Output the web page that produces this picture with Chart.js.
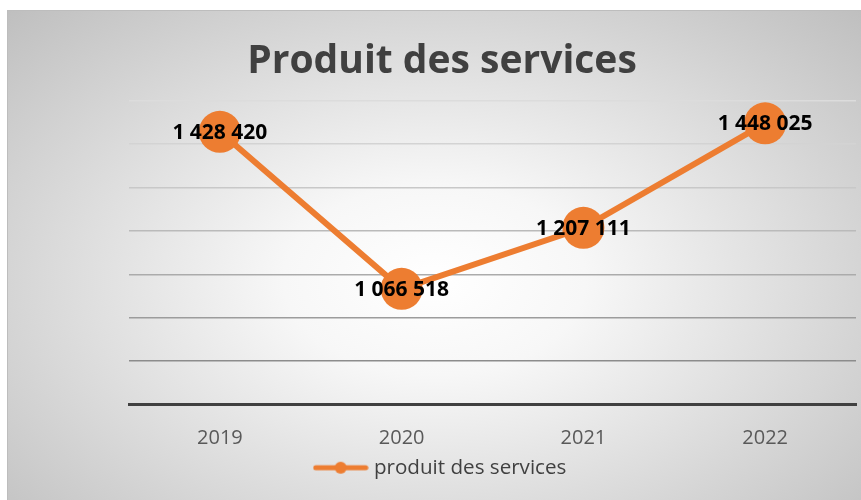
<!DOCTYPE html>
<html>
<head>
<meta charset="utf-8">
<script src="https://cdn.jsdelivr.net/npm/chart.js@4/dist/chart.umd.min.js"></script>
<style>
  html, body { margin: 0; padding: 0; background: #ffffff; width: 861px; height: 500px; overflow: hidden; }
  #box {
    position: absolute; left: 7px; top: 10px; width: 853px; height: 489px;
    border-left: 1px solid #bdbdbd; border-top: 1px solid #bdbdbd;
    background: radial-gradient(ellipse farthest-corner at 50% 55%, #ffffff 0%, #f7f7f7 25%, #bfbfbf 100%);
  }
  canvas { display: block; }
</style>
</head>
<body>
<div id="box"><canvas id="c" width="853" height="489"></canvas></div>
<script>
const title = 'Produit des services';
const seriesName = 'produit des services';
const categories = ['2019', '2020', '2021', '2022'];
const values = [1428420, 1066518, 1207111, 1448025];
const yMin = 800000;
const yMax = 1500000;
const yStep = 100000;

const ORANGE = '#ED7D31';
const FONT = '"Open Sans", Lato, "DejaVu Sans", sans-serif';

function fmt(v) {
  return String(v).replace(/\B(?=(\d{3})+(?!\d))/g, ' ');
}

// legend marker: line with a dot
const marker = document.createElement('canvas');
marker.width = 56; marker.height = 14;
(function () {
  const g = marker.getContext('2d');
  g.strokeStyle = ORANGE; g.lineWidth = 5; g.lineCap = 'round';
  g.beginPath(); g.moveTo(3, 7); g.lineTo(53, 7); g.stroke();
  g.fillStyle = ORANGE; g.beginPath(); g.arc(28, 7, 6, 0, Math.PI * 2); g.fill();
})();

const labelPlugin = {
  id: 'valueLabels',
  afterDatasetsDraw(chart) {
    const ctx = chart.ctx;
    const meta = chart.getDatasetMeta(0);
    ctx.save();
    ctx.font = 'bold 21px ' + FONT;
    ctx.fillStyle = '#000000';
    ctx.textAlign = 'center';
    ctx.textBaseline = 'middle';
    meta.data.forEach((pt, i) => {
      ctx.fillText(fmt(values[i]), pt.x, pt.y + 1);
    });
    ctx.restore();
  }
};

const gridColors = ['#444444', '#8c8c8c', '#9c9c9c', '#ababab', '#bababa', '#c8c8c8', '#d3d3d3', '#dcdcdc'];

new Chart(document.getElementById('c'), {
  type: 'line',
  data: {
    labels: categories,
    datasets: [{
      label: seriesName,
      data: values,
      borderColor: ORANGE,
      backgroundColor: ORANGE,
      borderWidth: 6,
      pointRadius: 21,
      pointHoverRadius: 21,
      pointBackgroundColor: ORANGE,
      pointBorderWidth: 0,
      tension: 0,
      clip: false
    }]
  },
  options: {
    responsive: false,
    animation: false,
    events: [],
    layout: { autoPadding: false, padding: { left: 20, right: 5, top: 0, bottom: 12 } },
    plugins: {
      title: {
        display: true,
        text: title,
        color: '#404040',
        font: { family: FONT, size: 39, weight: 'bold' },
        padding: { top: 27, bottom: 16 }
      },
      legend: {
        display: true,
        position: 'bottom',
        labels: {
          usePointStyle: true,
          pointStyle: marker,
          pointStyleWidth: 46,
          color: '#404040',
          font: { family: FONT, size: 20.6 },
          padding: 8
        }
      },
      tooltip: { enabled: false }
    },
    scales: {
      x: {
        offset: true,
        grid: {
          display: true,
          drawOnChartArea: false,
          drawTicks: true,
          tickLength: 22,
          color: 'rgba(0,0,0,0)',
          tickColor: 'rgba(0,0,0,0)'
        },
        border: { display: true, color: '#404040', width: 3 },
        ticks: { color: '#595959', font: { family: FONT, size: 20 }, padding: 0 },
        afterFit(s) { s.height = 45; s.paddingLeft = 0; s.paddingRight = 0; }
      },
      y: {
        min: yMin,
        max: yMax,
        ticks: { display: false, stepSize: yStep },
        border: { display: false },
        grid: {
          drawTicks: false,
          lineWidth: 1.5,
          color: (ctx) => gridColors[ctx.index] || '#d9d9d9'
        },
        afterFit(s) { s.width = 101; }
      }
    }
  },
  plugins: [labelPlugin]
});
</script>
</body>
</html>
